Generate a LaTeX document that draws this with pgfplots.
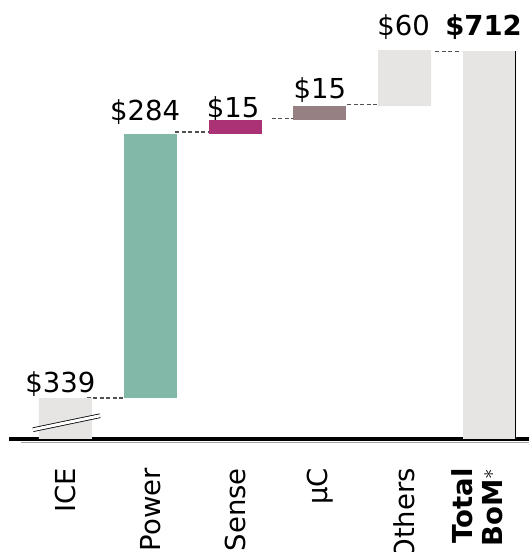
\documentclass[border=0pt]{standalone}
\usepackage{pgfplots}
\pgfplotsset{compat=1.18}
\usepackage{fontspec}
\setmainfont{DejaVu Sans}
\definecolor{cgray}{RGB}{230,229,227}
\definecolor{cgreen}{RGB}{130,184,168}
\definecolor{cmag}{RGB}{172,50,118}
\definecolor{cmauve}{RGB}{150,128,132}
\definecolor{cdash}{RGB}{80,80,80}
\tikzset{vl/.style={font=\fontsize{27.5}{30}\selectfont, anchor=base, inner sep=0pt},
  cn/.style={cdash, line width=1.2pt, dash pattern=on 4pt off 2.5pt}}
\begin{document}
\begin{tikzpicture}
\begin{axis}[
  name=ax,
  scale only axis, width=520pt, height=439pt,
  xmin=-0.665, xmax=5.465, ymin=295, ymax=767,
  axis y line=none, axis x line*=bottom,
  x axis line style={line width=4pt,-},
  xtick={0,1,2,3,4}, major tick length=0pt,
  xticklabels={ICE,Power,Sense,µC,Others},
  extra x ticks={5},
  extra x tick labels={{\textbf{Total}\\\textbf{BoM$^{*}$}}},
  extra x tick style={xticklabel style={yshift=12pt}},
  xticklabel style={yshift=-29pt, rotate=90, anchor=east, inner sep=0pt, align=right, font=\fontsize{27.5}{30}\selectfont},
  ybar stacked, bar width=53pt,
]
\addplot[draw=none, fill=white, fill opacity=0] coordinates {(0,0)(1,339)(2,623)(3,638)(4,653)(5,0)};
\addplot[draw=none, fill=cgray] coordinates {(0,339)(1,0)(2,0)(3,0)(4,60)(5,712)};
\addplot[draw=none, fill=cgreen] coordinates {(0,0)(1,284)(2,0)(3,0)(4,0)(5,0)};
\addplot[draw=none, fill=cmag] coordinates {(0,0)(1,0)(2,15)(3,0)(4,0)(5,0)};
\addplot[draw=none, fill=cmauve] coordinates {(0,0)(1,0)(2,0)(3,15)(4,0)(5,0)};

\draw[cn] (axis cs:0.254,339) -- (axis cs:0.679,339);
\draw[cn] (axis cs:1.292,625) -- (axis cs:1.693,625);
\draw[cn] (axis cs:2.435,640) -- (axis cs:2.683,640);
\draw[cn] (axis cs:3.32,655) -- (axis cs:3.685,655);
\draw[cn] (axis cs:4.357,712) -- (axis cs:4.652,712);

\coordinate (b1) at (axis cs:-0.382,305);
\coordinate (b2) at (axis cs:0.408,320);
\coordinate (e1) at (axis cs:5.305,295);
\coordinate (e2) at (axis cs:5.305,712);

\node[vl, xshift=-5pt, yshift=6pt] at (axis cs:0,339) {\$339};
\node[vl, xshift=-5pt, yshift=13pt] at (axis cs:1,623) {\$284};
\node[vl, xshift=-2pt, yshift=2pt] at (axis cs:2,638) {\$15};
\node[vl, xshift=0pt, yshift=8pt] at (axis cs:3,653) {\$15};
\node[vl, xshift=-1pt, yshift=15pt] at (axis cs:4,713) {\$60};
\node[vl, xshift=-6pt, yshift=16pt] at (axis cs:5,712) {\textbf{\$712}};
\end{axis}
\draw[double=white, double distance=3pt, line width=0.8pt] (b1) -- (b2);
\draw[line width=1.2pt] (e1) -- (e2);
\draw[gray!70, line width=1pt] ([xshift=12pt, yshift=-3.5pt]ax.south west) -- ([yshift=-3.5pt]ax.south east);
\pgfresetboundingbox
\path[use as bounding box] ([xshift=-9pt,yshift=-113pt]ax.south west) rectangle (ax.north east);
\end{tikzpicture}
\end{document}
